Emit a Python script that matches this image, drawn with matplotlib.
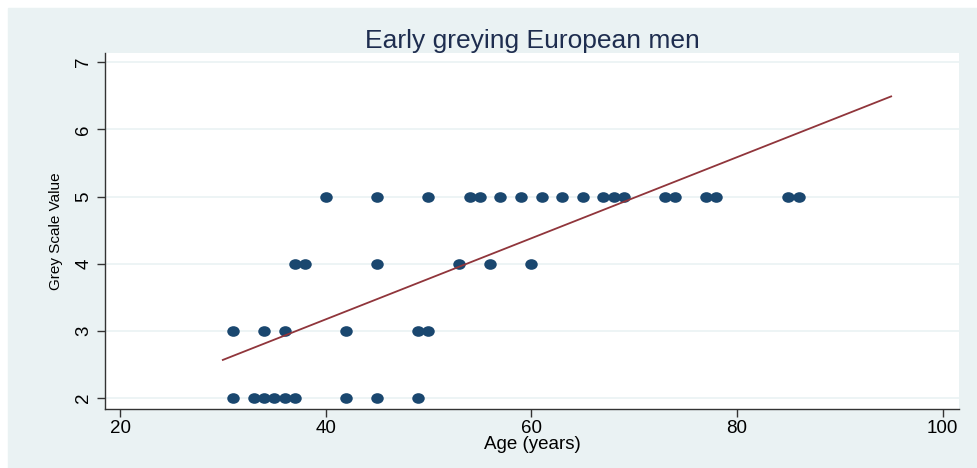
import numpy as np
import matplotlib
matplotlib.use("Agg")
import matplotlib.pyplot as plt
from matplotlib.path import Path
from matplotlib.patches import Rectangle

# Data
age_2 = [31, 33, 34, 35, 36, 37, 42, 45, 49]
age_3 = [31, 34, 36, 42, 49, 50]
age_4 = [37, 38, 45, 53, 56, 60]
age_5 = [40, 45, 50, 54, 55, 57, 59, 61, 63, 65, 67, 68, 69, 73, 74, 77, 78, 85, 86]
grey_levels = [2, 3, 4, 5]

fit_age = [30, 95]
fit_grey = [2.57, 6.49]

x_ticks = [20, 40, 60, 80, 100]
y_ticks = [2, 3, 4, 5, 6, 7]

plt.rcParams['font.family'] = ['Liberation Sans', 'DejaVu Sans']

bg = '#EAF2F3'
navy = '#1A476F'
maroon = '#90353B'

W, H = 978, 468
fig = plt.figure(figsize=(W / 100, H / 100), dpi=100, facecolor='white')
fig.patches.append(Rectangle((8 / W, 0), 1 - 8 / W, 1 - 8 / H,
                             transform=fig.transFigure, color=bg, zorder=-1))

ax = fig.add_axes([105 / W, (H - 409) / H, (959 - 105) / W, (409 - 52.7) / H])
ax.set_facecolor('white')

# ellipse marker, a bit wider than tall
circ = Path.unit_circle()
ell = Path(circ.vertices * np.array([1.0, 0.85]), circ.codes)

ages = age_2 + age_3 + age_4 + age_5
greys = ([grey_levels[0]] * len(age_2) + [grey_levels[1]] * len(age_3)
         + [grey_levels[2]] * len(age_4) + [grey_levels[3]] * len(age_5))
ax.plot(ages, greys, linestyle='none', marker=ell, markersize=9,
        color=navy, markeredgewidth=0, zorder=3)
ax.plot(fit_age, fit_grey, color=maroon, linewidth=1.3, zorder=4)

ax.set_xlim(18.54, 101.6)
ax.set_ylim(1.84, 7.14)
ax.set_xticks(x_ticks)
ax.set_yticks(y_ticks)
ax.set_yticklabels([str(v) for v in y_ticks], rotation=90, va='center')
ax.grid(axis='y', color=bg, linewidth=1.2, zorder=0)
ax.grid(axis='x', visible=False)

for s in ['top', 'right']:
    ax.spines[s].set_visible(False)
for s in ['left', 'bottom']:
    ax.spines[s].set_color('#333333')
    ax.spines[s].set_linewidth(1.0)
ax.tick_params(axis='both', colors='#333333', labelcolor='black',
               labelsize=13.5, length=6, width=1)
ax.tick_params(axis='y', pad=3)
ax.tick_params(axis='x', pad=2)

ax.set_xlabel('Age (years)', fontsize=13.5, labelpad=-1)
ax.set_ylabel('Grey Scale Value', fontsize=11, labelpad=9)
ax.set_title('Early greying European men', fontsize=19, color='#1E2D4F', pad=3)

fig.savefig('out.png', dpi=100, facecolor='white')
